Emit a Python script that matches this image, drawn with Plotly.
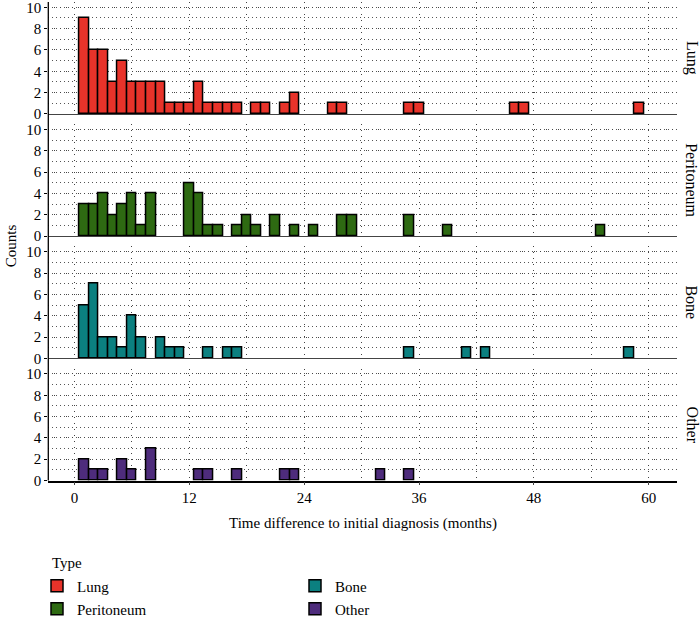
import plotly.graph_objects as go

W, H = 700, 621
FIG_H = 629  # the photographed page comes out slightly squeezed vertically
FONT = "Liberation Serif"

TYPES = ["Lung", "Peritoneum", "Bone", "Other"]
COLORS = {"Lung": "#E8332A", "Peritoneum": "#2E6A12", "Bone": "#0B8080", "Other": "#4E2C7C"}

lung_months = [1, 2, 3, 4, 5, 6, 7, 8, 9, 10, 11, 12, 13, 14, 15, 16, 17, 19, 20, 22, 23, 27, 28, 35, 36, 46, 47, 59]
lung_counts = [9, 6, 6, 3, 5, 3, 3, 3, 3, 1, 1, 1, 3, 1, 1, 1, 1, 1, 1, 1, 2, 1, 1, 1, 1, 1, 1, 1]

peritoneum_months = [1, 2, 3, 4, 5, 6, 7, 8, 12, 13, 14, 15, 17, 18, 19, 21, 23, 25, 28, 29, 35, 39, 55]
peritoneum_counts = [3, 3, 4, 2, 3, 4, 1, 4, 5, 4, 1, 1, 1, 2, 1, 2, 1, 1, 2, 2, 2, 1, 1]

bone_months = [1, 2, 3, 4, 5, 6, 7, 9, 10, 11, 14, 16, 17, 35, 41, 43, 58]
bone_counts = [5, 7, 2, 2, 1, 4, 2, 2, 1, 1, 1, 1, 1, 1, 1, 1, 1]

other_months = [1, 2, 3, 5, 6, 8, 13, 14, 17, 22, 23, 32, 35]
other_counts = [2, 1, 1, 2, 1, 3, 1, 1, 1, 1, 1, 1, 1]

DATA = {
    "Lung": (lung_months, lung_counts),
    "Peritoneum": (peritoneum_months, peritoneum_counts),
    "Bone": (bone_months, bone_counts),
    "Other": (other_months, other_counts),
}

X_TICKS = [0, 12, 24, 36, 48, 60]
Y_TICKS = [0, 2, 4, 6, 8, 10]

# panel geometry in pixels
PLOT_L, PLOT_R = 48.3, 677
PANEL_H = 112.3
PANEL_STEP = 122.6

def py(px):
    return 1 - px / H

tfont = dict(family=FONT, size=15, color="black")

fig = go.Figure()
layout = dict(
    width=W, height=FIG_H,
    margin=dict(l=0, r=0, t=0, b=0),
    paper_bgcolor="white", plot_bgcolor="white",
    font=tfont,
    bargap=0,
    showlegend=True,
)

annotations = []
shapes = []

for i, t in enumerate(TYPES):
    n = i + 1
    xa = "x" if n == 1 else f"x{n}"
    ya = "y" if n == 1 else f"y{n}"
    top = i * PANEL_STEP
    bottom = top + PANEL_H
    months, counts = DATA[t]
    fig.add_trace(go.Bar(
        x=months, y=counts, width=1, name=t,
        marker=dict(color=COLORS[t], line=dict(color="black", width=1.5)),
        xaxis=xa, yaxis=ya,
        legend="legend" if n == 1 else f"legend{n}",
    ))
    last = n == len(TYPES)
    layout["xaxis" if n == 1 else f"xaxis{n}"] = dict(
        domain=[PLOT_L / W, PLOT_R / W], anchor=ya,
        range=[-2.74, 62.96],
        tickvals=X_TICKS, showticklabels=last,
        ticks="outside" if last else "", ticklen=3, tickcolor="#444",
        showline=True, linecolor="black" if last else "#444",
        linewidth=1.5 if last else 1,
        showgrid=True, gridcolor="#444", gridwidth=1, griddash="1px,5px",
        minor=dict(dtick=6, tick0=0, showgrid=True, gridcolor="#444", gridwidth=1, griddash="1px,5px"),
        zeroline=False,
        tickfont=tfont,
    )
    layout["yaxis" if n == 1 else f"yaxis{n}"] = dict(
        domain=[py(bottom), py(top)], anchor=xa,
        range=[0, 10.5],
        tickvals=Y_TICKS, ticks="outside", ticklen=3, tickcolor="black",
        ticklabeloverflow="allow",
        showline=False,
        showgrid=True, gridcolor="#444", gridwidth=1, griddash="1px,5px",
        minor=dict(dtick=1, tick0=0, showgrid=True, gridcolor="#555", gridwidth=1, griddash="1px,3px"),
        zeroline=False,
        tickfont=tfont,
    )
    # facet strip label on the right
    annotations.append(dict(
        text=t, xref="paper", yref="paper", x=692 / W, y=py((top + bottom) / 2),
        textangle=90, showarrow=False, xanchor="center", yanchor="middle",
        font=dict(family=FONT, size=16, color="black"),
    ))

# continuous left axis line
shapes.append(dict(type="line", xref="paper", yref="paper",
                   x0=PLOT_L / W, x1=PLOT_L / W, y0=py(0), y1=py(3 * PANEL_STEP + PANEL_H),
                   line=dict(color="black", width=1.3)))

annotations.append(dict(text="Counts", xref="paper", yref="paper", x=11 / W, y=py(245),
                        textangle=-90, showarrow=False, xanchor="center", yanchor="middle",
                        font=tfont))
annotations.append(dict(text="Time difference to initial diagnosis (months)", xref="paper", yref="paper",
                        x=(PLOT_L + PLOT_R) / 2 / W, y=py(523), showarrow=False,
                        xanchor="center", yanchor="middle", font=tfont))
annotations.append(dict(text="Type", xref="paper", yref="paper", x=50 / W, y=py(563),
                        showarrow=False, xanchor="left", yanchor="middle", font=tfont))

# legend positions: (left px, item centre px)
LEGEND_POS = {"Lung": (37, 586), "Peritoneum": (37, 609), "Bone": (295, 586), "Other": (295, 609)}
for i, t in enumerate(TYPES):
    n = i + 1
    lx, ly = LEGEND_POS[t]
    layout["legend" if n == 1 else f"legend{n}"] = dict(
        x=lx / W, y=py(ly), xanchor="left", yanchor="middle",
        bgcolor="rgba(0,0,0,0)", font=tfont, itemclick=False,
    )

layout["annotations"] = annotations
layout["shapes"] = shapes
fig.update_layout(**layout)

page_fix = (
    "document.documentElement.style.margin='0';"
    "document.documentElement.style.overflow='hidden';"
    "document.body.style.margin='0';"
    "document.body.style.overflow='hidden';"
)
fig.write_html("out.html", config={"displayModeBar": False}, post_script=page_fix)
